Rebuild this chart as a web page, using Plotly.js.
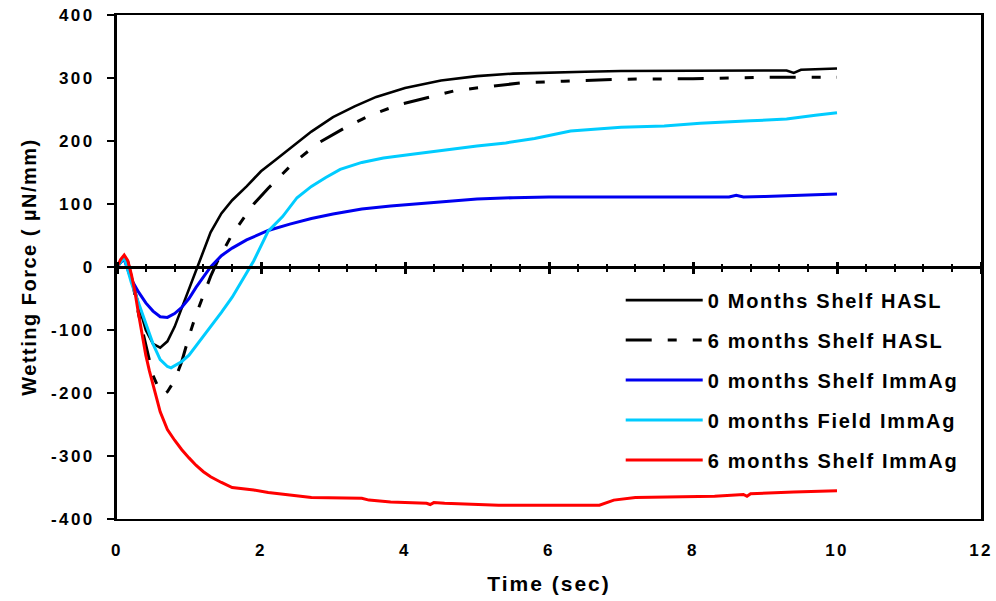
<!DOCTYPE html>
<html>
<head>
<meta charset="utf-8">
<script src="https://cdn.plot.ly/plotly-3.0.1.min.js"></script>
<style>
  html, body { margin: 0; padding: 0; background: #fff; }
  #chart { width: 996px; height: 601px; }
  .legendtext { letter-spacing: 1.7px; }
  .xtick text, .ytick text { letter-spacing: 2.4px; }
  .g-xtitle text { letter-spacing: 2px; }
  .g-ytitle text { letter-spacing: 1.5px; }
</style>
</head>
<body>
<div id="chart"></div>
<script>
// ---- Data ----
const seriesNames = [
  "0 Months Shelf HASL",
  "6 months Shelf HASL",
  "0 months Shelf ImmAg",
  "0 months Field ImmAg",
  "6 months Shelf ImmAg"
];

const t0mShelfHASL = [0,0.05,0.1,0.15,0.2,0.3,0.4,0.5,0.6,0.7,0.8,0.9,1.0,1.1,1.2,1.3,1.45,1.6,1.8,2.0,2.2,2.4,2.7,3.0,3.3,3.6,4.0,4.5,5.0,5.5,6.0,6.5,7.0,8.0,9.0,9.3,9.4,9.5,10];
const v0mShelfHASL = [0,8,15,8,-15,-60,-100,-122,-128,-118,-95,-65,-35,-5,25,55,85,106,128,152,170,188,215,238,255,270,284,296,303,307,309,310,311,311,311,312,308,313,315];

const t6mShelfHASL = [0,0.05,0.1,0.15,0.2,0.3,0.4,0.5,0.6,0.65,0.7,0.8,0.9,1.0,1.1,1.2,1.3,1.4,1.6,1.9,2.1,2.45,2.8,3.15,3.5,3.9,4.35,4.7,5.2,5.6,6.2,7.0,8.0,9.0,10];
const v6mShelfHASL = [0,8,15,8,-15,-75,-125,-172,-198,-202,-198,-180,-150,-110,-75,-45,-15,10,52,100,125,165,197,220,240,257,270,280,287,292,295,298,299,301,301];

const t0mShelfImmAg = [0,0.05,0.1,0.2,0.3,0.4,0.5,0.6,0.7,0.8,0.9,1.0,1.1,1.2,1.3,1.45,1.6,1.8,2.1,2.4,2.7,3.0,3.4,3.8,4.2,4.6,5.0,5.5,6.0,7.0,8.0,8.5,8.6,8.7,9.0,9.5,10];
const v0mShelfImmAg = [0,8,12,-20,-40,-57,-70,-79,-80,-74,-64,-50,-32,-15,0,18,30,43,58,68,77,84,92,97,101,105,108,110,111,111,111,111,114,111,112,114,116];

const t0mFieldImmAg = [0,0.05,0.1,0.2,0.3,0.4,0.5,0.6,0.7,0.75,0.8,0.9,1.0,1.1,1.2,1.3,1.45,1.6,1.75,1.9,2.1,2.3,2.5,2.7,2.9,3.1,3.4,3.7,4.1,4.5,5.0,5.4,5.8,6.3,7.0,7.6,8.1,8.8,9.3,9.7,10];
const v0mFieldImmAg = [0,8,15,-25,-58,-92,-122,-147,-158,-160,-157,-150,-140,-125,-110,-95,-72,-48,-20,10,57,80,110,128,142,155,166,173,179,185,192,197,204,216,222,224,228,232,235,241,245];

const t6mShelfImmAg = [0,0.05,0.1,0.15,0.2,0.25,0.3,0.35,0.4,0.45,0.5,0.55,0.6,0.7,0.8,0.9,1.0,1.1,1.2,1.3,1.45,1.6,1.9,2.1,2.4,2.7,3.4,3.5,3.8,4.3,4.35,4.4,4.55,5.3,6.0,6.7,6.9,7.2,8.3,8.7,8.75,8.8,9.4,10];
const v6mShelfImmAg = [0,12,19,10,-12,-40,-75,-110,-140,-165,-185,-208,-230,-258,-275,-290,-303,-315,-325,-333,-342,-350,-354,-358,-362,-366,-367,-370,-373,-375,-377,-374,-375,-378,-378,-378,-370,-366,-364,-361,-364,-360,-357,-355];

const xTickVals = [0,2,4,6,8,10,12];
const xTickText = ["0","2","4","6","8","10","12"];
const yTickVals = [-400,-300,-200,-100,0,100,200,300,400];
const yTickText = ["-400","-300","-200","-100","0","100","200","300","400"];

const xTitle = "Time (sec)";
const yTitle = "Wetting Force ( \u00b5N/mm)";

// ---- Styles ----
const FONT = "Liberation Sans, Arial, sans-serif";
const colors = ["#000000", "#000000", "#0000F0", "#00CCFF", "#FF0000"];
const dashes = ["solid", "26px,16px,9px,16px,9px,16px", "solid", "solid", "solid"];
const widths = [2.6, 3, 3, 3, 3];

const xs = [t0mShelfHASL, t6mShelfHASL, t0mShelfImmAg, t0mFieldImmAg, t6mShelfImmAg];
const ys = [v0mShelfHASL, v6mShelfHASL, v0mShelfImmAg, v0mFieldImmAg, v6mShelfImmAg];

const traces = seriesNames.map((name, i) => ({
  type: "scatter",
  mode: "lines",
  name: name,
  x: xs[i],
  y: ys[i],
  legendgroup: "g" + i,
  line: { color: colors[i], width: widths[i], dash: dashes[i] },
  hoverinfo: "x+y+name"
}));

const layout = {
  width: 996,
  height: 601,
  margin: { l: 117, r: 15, t: 15, b: 82 },
  paper_bgcolor: "#ffffff",
  plot_bgcolor: "#ffffff",
  font: { family: FONT, color: "#000", size: 17, weight: "bold" },
  showlegend: true,
  legend: {
    x: 0.583, xanchor: "left",
    y: 0.473, yanchor: "top",
    bgcolor: "rgba(255,255,255,0)",
    borderwidth: 0,
    font: { family: FONT, size: 20, color: "#000", weight: "bold" },
    itemwidth: 77,
    tracegroupgap: 11
  },
  xaxis: {
    range: [0, 12],
    tickvals: xTickVals,
    ticktext: xTickText,
    ticks: "",
    showgrid: false,
    zeroline: false,
    showline: true,
    linecolor: "#000",
    linewidth: 2,
    mirror: true,
    ticklabelstandoff: 15,
    tickfont: { family: FONT, size: 17, weight: "bold" },
    title: { text: xTitle, font: { family: FONT, size: 21, weight: "bold" }, standoff: 17 },
    fixedrange: true
  },
  xaxis2: {
    range: [0, 12],
    overlaying: "x",
    anchor: "free",
    position: 0.5,
    dtick: 2,
    ticks: "outside",
    ticklen: 5,
    tickwidth: 3,
    tickcolor: "#000",
    minor: { dtick: 0.4, ticks: "outside", ticklen: 3, tickwidth: 2, tickcolor: "#000" },
    showticklabels: false,
    showgrid: false,
    zeroline: false,
    showline: true,
    linecolor: "#000",
    linewidth: 3,
    fixedrange: true
  },
  xaxis3: {
    range: [0, 12],
    overlaying: "x",
    anchor: "free",
    position: 0.5,
    side: "top",
    dtick: 2,
    ticks: "outside",
    ticklen: 5,
    tickwidth: 3,
    tickcolor: "#000",
    minor: { dtick: 0.4, ticks: "outside", ticklen: 3, tickwidth: 2, tickcolor: "#000" },
    showticklabels: false,
    showgrid: false,
    zeroline: false,
    showline: false,
    fixedrange: true
  },
  yaxis: {
    range: [-400, 400],
    tickvals: yTickVals,
    ticktext: yTickText,
    ticks: "outside",
    ticklen: 7,
    tickwidth: 2,
    tickcolor: "#000",
    ticklabelstandoff: 9,
    showgrid: false,
    zeroline: false,
    showline: true,
    linecolor: "#000",
    linewidth: 3,
    mirror: true,
    tickfont: { family: FONT, size: 17, weight: "bold" },
    title: { text: yTitle, font: { family: FONT, size: 20, weight: "bold" }, standoff: 9 },
    fixedrange: true
  }
};

// Invisible helper traces so the overlay axes are drawn
const axisHelpers = [
  { type: "scatter", mode: "lines", x: [0, 12], y: [0, 0], xaxis: "x2", yaxis: "y", showlegend: false, hoverinfo: "skip", line: { width: 0, color: "rgba(0,0,0,0)" } },
  { type: "scatter", mode: "lines", x: [0, 12], y: [0, 0], xaxis: "x3", yaxis: "y", showlegend: false, hoverinfo: "skip", line: { width: 0, color: "rgba(0,0,0,0)" } }
];

Plotly.newPlot("chart", axisHelpers.concat(traces), layout, { staticPlot: true, displayModeBar: false });
</script>
</body>
</html>
